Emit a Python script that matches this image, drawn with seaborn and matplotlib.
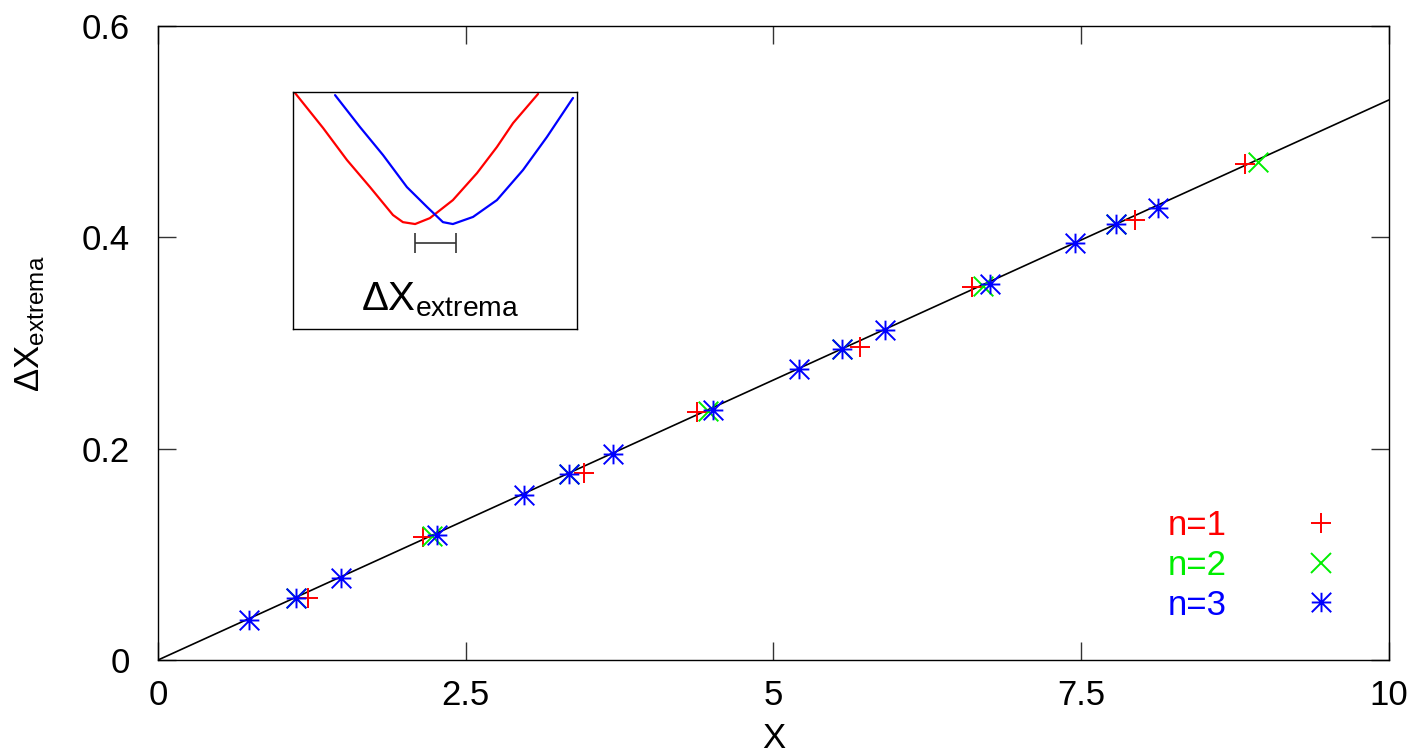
import numpy as np
import seaborn as sns
import matplotlib
matplotlib.use("Agg")
import matplotlib.pyplot as plt
from matplotlib.path import Path
from matplotlib.lines import Line2D

# measured peak separations, one set per n
x_n1 = [1.22, 2.15, 3.46, 4.38, 5.70, 6.61, 7.94, 8.83]
y_n1 = [0.059, 0.116, 0.177, 0.235, 0.296, 0.353, 0.416, 0.469]

x_n2 = [1.12, 2.23, 3.34, 4.47, 5.56, 6.70, 7.78, 8.94]
y_n2 = [0.059, 0.117, 0.176, 0.236, 0.294, 0.354, 0.413, 0.471]

x_n3 = [0.74, 1.12, 1.49, 2.27, 2.97, 3.34, 3.70, 4.51, 5.21, 5.56, 5.91, 6.76, 7.45, 7.78, 8.12]
y_n3 = [0.038, 0.059, 0.078, 0.118, 0.156, 0.176, 0.195, 0.237, 0.275, 0.294, 0.312, 0.356, 0.395, 0.413, 0.428]

# straight fit through origin
fit_x = [0, 10]
fit_y = [0, 0.53]

labels = ["n=1", "n=2", "n=3"]
colors = ["#ff0000", "#00ee00", "#0000ff"]

# inset sketch: two shifted V-shaped curves (normalised inset units)
red_u = [0.007, 0.106, 0.190, 0.271, 0.352, 0.387, 0.430, 0.482, 0.563, 0.648, 0.718, 0.775, 0.863]
red_v = [0.996, 0.848, 0.713, 0.599, 0.481, 0.451, 0.443, 0.468, 0.544, 0.658, 0.768, 0.869, 0.992]
blue_u = [0.148, 0.236, 0.317, 0.401, 0.472, 0.528, 0.563, 0.634, 0.718, 0.810, 0.894, 0.986]
blue_v = [0.987, 0.852, 0.734, 0.599, 0.515, 0.451, 0.443, 0.473, 0.544, 0.671, 0.810, 0.975]
bar_u = [0.430, 0.574]
bar_v = 0.363

sns.set_style("ticks")
plt.rcParams["font.family"] = ["Liberation Sans", "DejaVu Sans"]
plt.rcParams["mathtext.fontset"] = "custom"
plt.rcParams["mathtext.rm"] = "Liberation Sans"
plt.rcParams["mathtext.it"] = "Liberation Sans:italic"
plt.rcParams["mathtext.default"] = "regular"
for k in ["text.color", "axes.labelcolor", "xtick.color", "ytick.color"]:
    plt.rcParams[k] = "black"

FS = 25

# gnuplot-like star: plus + cross
star = Path([(-1, 0), (1, 0), (0, -1), (0, 1), (-1, -1), (1, 1), (-1, 1), (1, -1)],
            [Path.MOVETO, Path.LINETO] * 4)
markers = ["+", "x", star]

fig = plt.figure(figsize=(14.26, 7.55), dpi=100)
ax = fig.add_axes([0.1108, 0.1258, 0.8632, 0.8398])

sns.lineplot(x=fit_x, y=fit_y, color="black", lw=1.2, ax=ax)

series = [(x_n1, y_n1), (x_n2, y_n2), (x_n3, y_n3)]
for (xs, ys), c, m in zip(series, colors, markers):
    sns.scatterplot(x=xs, y=ys, marker=m, s=200, color=c, edgecolor=c,
                    linewidth=1.4, ax=ax, zorder=3)

ax.set_xlim(0, 10)
ax.set_ylim(0, 0.6)
ax.set_xticks([0, 2.5, 5, 7.5, 10])
ax.set_xticklabels(["0", "2.5", "5", "7.5", "10"])
ax.set_yticks([0, 0.2, 0.4, 0.6])
ax.set_yticklabels(["0", "0.2", "0.4", "0.6"])
ax.tick_params(axis="both", direction="in", length=13, width=1, labelsize=FS,
               top=True, right=True, color="#333333", labelcolor="black")
ax.tick_params(axis="x", pad=14)
ax.tick_params(axis="y", pad=20)
for sp in ax.spines.values():
    sp.set_linewidth(1.0)
    sp.set_color("black")

ax.set_xlabel("X", fontsize=FS)
ax.set_ylabel("ΔX$_{extrema}$", fontsize=FS)
ax.xaxis.set_label_coords(0.5, -0.097)
ax.yaxis.set_label_coords(-0.09, 0.53)

handles = [Line2D([], [], linestyle="none", marker=m, color=c, markeredgecolor=c,
                  markersize=14, markeredgewidth=1.4)
           for m, c in zip(markers, colors)]
ax.legend(handles, labels, loc="upper right", bbox_to_anchor=(0.973, 0.266),
          frameon=False, markerfirst=False, fontsize=FS, labelcolor=colors,
          handlelength=1.0, handletextpad=2.2, labelspacing=0.2, borderpad=0)

# inset
ax_in = fig.add_axes([0.2055, 0.5642, 0.1991, 0.3139])
sns.lineplot(x=red_u, y=red_v, sort=False, estimator=None, color="#ff0000", lw=1.6, ax=ax_in)
sns.lineplot(x=blue_u, y=blue_v, sort=False, estimator=None, color="#0000ff", lw=1.6, ax=ax_in)
mid = (bar_u[0] + bar_u[1]) / 2
ax_in.errorbar(mid, bar_v, xerr=(bar_u[1] - bar_u[0]) / 2, fmt="none",
               ecolor="#333333", elinewidth=1.2, capsize=7, capthick=1.2)
ax_in.text(0.518, 0.125, "ΔX$_{extrema}$", fontsize=29, ha="center", va="center")
ax_in.set_xlim(0, 1)
ax_in.set_ylim(0, 1)
ax_in.set_xticks([])
ax_in.set_yticks([])
for sp in ax_in.spines.values():
    sp.set_linewidth(1.0)
    sp.set_color("black")

fig.savefig("out.png", dpi=100)
